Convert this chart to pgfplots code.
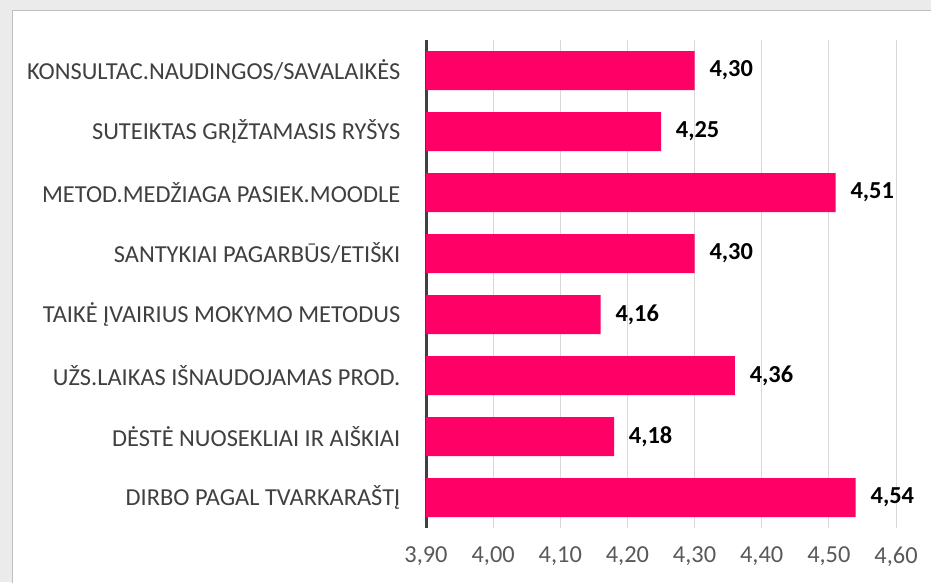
\documentclass[border=0pt]{standalone}
\usepackage{pgfplots}
\pgfplotsset{compat=1.18}
\usepackage{pgfplotstable}
\usepackage{fontspec}
\setmainfont{Carlito}
\definecolor{barpink}{HTML}{FF0066}
\definecolor{gridgray}{HTML}{D9D9D9}
\definecolor{axisgray}{HTML}{404040}
\definecolor{labgray}{HTML}{404040}
\definecolor{tickgray}{HTML}{595959}
\definecolor{bggray}{HTML}{EBEBEB}
\definecolor{framegray}{HTML}{BFBFBF}
\pgfplotstableread{
idx val
0 4.30
1 4.25
2 4.51
3 4.30
4 4.16
5 4.36
6 4.18
7 4.54
}\datatable
\begin{document}
\fontsize{18.3pt}{22pt}\selectfont
\begin{tikzpicture}
\path[use as bounding box] (0,0) rectangle (698.25pt,436.5pt);
\clip (0,0) rectangle (698.25pt,436.5pt);
\fill[bggray] (0,0) rectangle (698.25pt,436.5pt);
\filldraw[fill=white, draw=framegray, line width=0.75pt] (9pt,-5pt) rectangle (720pt,428.25pt);
\begin{axis}[
  at={(319.5pt,40.5pt)}, anchor=south west,
  scale only axis,
  width=352.5pt, height=366pt,
  xmin=3.9, xmax=4.6,
  ymin=-0.5, ymax=7.5,
  y dir=reverse,
  xbar, bar width=29.25pt,
  xtick={3.9,4.0,4.1,4.2,4.3,4.4,4.5,4.6},
  ytick={0,...,7},
  yticklabels={KONSULTAC.NAUDINGOS/SAVALAIKĖS,SUTEIKTAS GRĮŽTAMASIS RYŠYS,METOD.MEDŽIAGA PASIEK.MOODLE,SANTYKIAI PAGARBŪS/ETIŠKI,TAIKĖ ĮVAIRIUS MOKYMO METODUS,UŽS.LAIKAS IŠNAUDOJAMAS PROD.,DĖSTĖ NUOSEKLIAI IR AIŠKIAI,DIRBO PAGAL TVARKARAŠTĮ},
  major tick length=0pt,
  xmajorgrids, grid style={gridgray, line width=0.75pt},
  axis x line*=bottom, axis y line*=left,
  x axis line style={draw=none},
  y axis line style={draw=axisgray, line width=2.25pt, -},
  xticklabel style={text=tickgray, font=\fontsize{18.3pt}{22pt}\selectfont, yshift=-8pt},
  yticklabel style={text=labgray, font=\fontsize{18.3pt}{22pt}\selectfont, anchor=east, xshift=-13pt},
  /pgf/number format/.cd, use comma, fixed, fixed zerofill, precision=2, assume math mode=true,
  /pgfplots/.cd,
  point meta=x,
  nodes near coords={\pgfmathprintnumber[use comma,fixed,fixed zerofill,precision=2,assume math mode=true]{\pgfplotspointmeta}},
  nodes near coords style={anchor=west, inner sep=0pt, xshift=11pt, font=\bfseries\fontsize{18.3pt}{22pt}\selectfont, text=black},
]
\addplot[fill=barpink, draw=none] table[x=val, y=idx] {\datatable};
\end{axis}
\end{tikzpicture}
\end{document}
